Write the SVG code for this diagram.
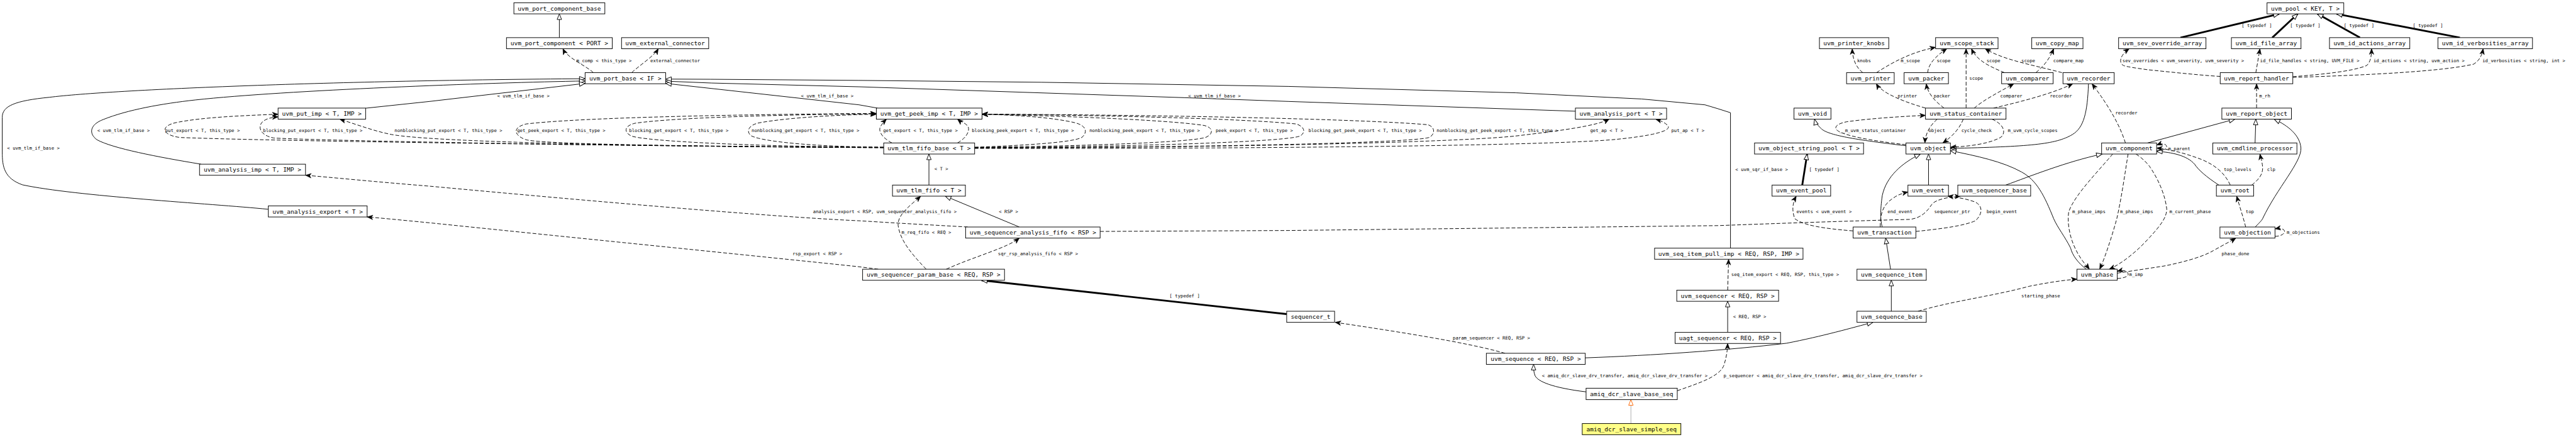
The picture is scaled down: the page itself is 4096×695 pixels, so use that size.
<svg xmlns="http://www.w3.org/2000/svg" width="4096" height="695" viewBox="0 0 4096 695">
<style>
.n rect{fill:#fff;stroke:#000;stroke-width:1.6}
.n text{font-family:"DejaVu Sans Mono","Liberation Mono",monospace;font-size:16px;text-anchor:middle;fill:#000}
#edges path{fill:none;stroke:#000;stroke-width:1.6}
#edges path.d{stroke-dasharray:10,5;marker-end:url(#vee)}
#edges path.i{marker-end:url(#tri)}
#edges path.t{stroke-width:4.8;marker-end:url(#tri)}
#labels text{font-family:"DejaVu Sans Mono","Liberation Mono",monospace;font-size:12.25px;fill:#000}
</style>
<defs>
<marker id="tri" markerUnits="userSpaceOnUse" markerWidth="20" markerHeight="16" refX="15" refY="6" orient="auto" overflow="visible"><path d="M0,0 L15,6 L0,12 Z" fill="#fff" stroke="#000" stroke-width="1.6"/></marker>
<marker id="triO" markerUnits="userSpaceOnUse" markerWidth="20" markerHeight="16" refX="15" refY="6" orient="auto" overflow="visible"><path d="M0,0 L15,6 L0,12 Z" fill="#fff" stroke="#f60" stroke-width="1.6"/></marker>
<marker id="vee" markerUnits="userSpaceOnUse" markerWidth="20" markerHeight="16" refX="15" refY="6" orient="auto" overflow="visible"><path d="M0,0 L15,6 L0,12 L4,6 Z" fill="#000" stroke="#000" stroke-width="1"/></marker>
</defs>
<rect x="0" y="0" width="4096" height="695" fill="#fff"/>
<g transform="scale(0.59752)">
<g id="edges">
<path class="i" d="M1488.5,100.2 L1488.5,36.9"/>
<path class="i" d="M714,557 C560,542 200,522 60,492 C12,475 6,445 6,405 L6,312 C6,282 40,268 131,259 C300,238 900,214 1557,209.5"/>
<path class="i" d="M535,437 C420,418 300,395 258,372 C236,356 238,332 275,318 C340,292 430,276 520,266 C760,240 1300,220 1557,215.5"/>
<path class="i" d="M973,288 L1143,270 L1557,222"/>
<path class="i" d="M2335,287.7 L2286,279 L1771.4,222"/>
<path class="i" d="M4192.3,296 L3429,270 L3153,260 L2286,231 L1894,221 L1771.4,216"/>
<path class="i" d="M4605,660.5 L4605,300 L4572,289.5 L4537,279 L4369,263.5 L4034,247 L3429,230 L2771,219 L2286,214 L1890,211 L1771.4,210.5"/>
<path class="i" d="M2472,492.6 L2472,410"/>
<path class="i" d="M2712.5,604.2 L2515.6,522.1"/>
<path class="i" d="M5072,388 C4920,370 4862,358 4846,342 C4836,332 4831,326 4828.6,317.2"/>
<path class="i" d="M5132,492.6 L5132,410"/>
<path class="i" d="M5009,604.2 C5004,590 5003,560 5009,520 C5020,470 5060,435 5110,410"/>
<path class="i" d="M5031,716.5 L5018,633.7"/>
<path class="i" d="M5033,828.4 L5033,746"/>
<path class="i" d="M4218.5,952.5 C4400,946 4600,932 4754,913.6 C4850,895 4930,872 4984,857.9"/>
<path class="i" d="M4220.7,1043 C4130,1032 4092,1015 4085,1000 C4081,990 4081,982 4081,969.8"/>
<path d="M4340,1127.3 L4340,1063.7" style="stroke:#aaa;marker-end:url(#triO)"/>
<path class="i" d="M4597.5,884.7 L4597.5,801.9"/>
<path class="i" d="M5337.5,492.6 C5400,470 5500,430 5594,410"/>
<path class="i" d="M5715,380.5 L5947,317.2"/>
<path class="i" d="M6001,380.5 L6003,317.2"/>
<path class="i" d="M5904.5,492.6 C5870,470 5850,452 5840,437 C5820,414 5780,405 5739,403"/>
<path class="i" d="M6001.5,604.2 C6010,595 6018,588 6021,582 C6060,500 6126,430 6123,393.5 C6120,360 6090,335 6052,317.2"/>
<path class="i" d="M5552,716.5 C5530,700 5515,680 5510,660 C5495,630 5475,605 5465,582 C5440,520 5420,480 5380,458 C5330,430 5260,415 5190.2,401"/>
<path class="i" d="M5557.6,222.9 C5555,300 5545,340 5515,358 C5470,385 5400,390 5190.2,395"/>
<path class="t" d="M4796,492.6 L4809,410"/>
<path class="t" d="M3424,836 L2612,746"/>
<path class="t" d="M5802.5,100.2 L6065,36.9"/>
<path class="t" d="M6046.7,100.2 L6114.5,36.9"/>
<path class="t" d="M6280,100.2 L6167,36.9"/>
<path class="t" d="M6546,100.2 L6218,36.9"/>
<path class="d" d="M1579,193.4 C1560,175 1510,155 1498,129.7"/>
<path class="d" d="M1681,193.4 C1700,175 1740,150 1751.7,129.7"/>
<path class="d" d="M2351.6,393 C1900,390 800,378 480,366 C430,360 425,335 470,326 C540,312 640,308 740,304"/>
<path class="d" d="M2351.6,393 C1800,391 900,376 729,367.5 C690,360 685,335 700,323 C710,315 725,312 740,311"/>
<path class="d" d="M2351.6,393 C1700,390 1150,378 1042,358 C1000,350 960,335 904,317.2"/>
<path class="d" d="M2351.6,392 C1900,390 1450,385 1400,372 C1370,362 1360,340 1400,330 C1550,312 2000,304 2332,302"/>
<path class="d" d="M2351.6,392 C2000,390 1720,376 1680,362 C1660,352 1660,335 1690,328 C1800,312 2100,305 2332,303"/>
<path class="d" d="M2351.6,392 C2150,390 2030,376 2000,362 C1985,352 1990,333 2020,327 C2100,312 2250,305 2332,304"/>
<path class="d" d="M2373.5,380.5 C2345,365 2337,348 2343,337 C2347,330 2353,323 2359,317.2"/>
<path class="d" d="M2548,380.5 C2575,365 2582,345 2575,335 C2568,327 2555,323 2548,317.2"/>
<path class="d" d="M2593.6,392 C2750,386 2860,378 2880,365 C2895,350 2890,335 2862,327 C2800,312 2700,306 2613.3,304"/>
<path class="d" d="M2593.6,392 C2900,389 3180,378 3210,365 C3230,355 3228,340 3205,334 C3100,318 2800,308 2613.3,304"/>
<path class="d" d="M2593.6,393 C3000,391 3420,378 3460,362 C3475,352 3472,338 3450,330 C3300,315 2900,306 2613.3,304"/>
<path class="d" d="M2593.6,393 C3200,393 3780,380 3805,365 C3820,355 3818,338 3800,332 C3600,315 3000,305 2613.3,304"/>
<path class="d" d="M2593.6,394 C3200,393 3900,380 4050,360 C4150,348 4250,335 4282,317.2"/>
<path class="d" d="M2593.6,395 C3200,396 4100,390 4300,371 C4420,359 4448,345 4438,334 C4428,324 4415,320 4406,317.2"/>
<path class="d" d="M2575,604.2 L2391.7,594 L2286,587.6 C2000,575 1300,510 1143,495.5 C1000,484 880,472 813,466.5"/>
<path class="d" d="M2464.6,716.5 C2420,670 2395,637 2390,600 C2388,570 2425,545 2450,522.1"/>
<path class="d" d="M2518,716.5 C2600,680 2680,660 2712.5,633.7"/>
<path class="d" d="M2337,716.5 L2286,710 C2000,680 1600,640 1143,593 C1060,585 1010,580 977,577.5"/>
<path class="d" d="M4005,940.3 C3900,910 3700,880 3553,857.9"/>
<path class="d" d="M4463.4,1040 C4520,1020 4572,1004 4586.6,974.7 C4595,950 4597,930 4597.5,914.2"/>
<path class="d" d="M4597.5,772.4 L4600,690"/>
<path class="d" d="M2927.5,616 L3429,613.5 L4572,600.5 C4800,592 5000,586 5082,584 C5115,580 5130,560 5140,545 C5150,530 5190,524 5217,522.1"/>
<path class="d" d="M5098.3,616 C5177,608 5228,600 5257,587.6 C5275,570 5278,550 5257,538 C5230,528 5200,524 5183,522.1"/>
<path class="d" d="M5003.6,604.2 C5003,570 5010,545 5038.6,527 C5050,518 5065,514 5077.2,511"/>
<path class="d" d="M4931.4,614.6 C4850,608 4800,600 4776,582 C4768,560 4770,540 4780,522.1"/>
<path class="d" d="M5072,385 C4980,375 4900,360 4887,345 C4880,335 4895,328 4914.6,324 C4980,315 5060,310 5123.9,307"/>
<path class="d" d="M5155,317.2 C5135,335 5124,355 5122.4,380.5"/>
<path class="d" d="M5224.5,317.2 C5215,340 5200,360 5170,380.5"/>
<path class="d" d="M5301,317.2 C5330,330 5340,350 5325,365 C5290,385 5230,390 5190.2,392"/>
<path class="d" d="M5124,287.7 C5070,272 5030,255 5010,240 C5000,232 4996,228 4993,222.9"/>
<path class="d" d="M5173.4,287.7 C5150,270 5130,250 5126,222.9"/>
<path class="d" d="M5232,287.7 L5232,129.7"/>
<path class="d" d="M5253.6,287.7 C5280,265 5320,245 5359,222.9"/>
<path class="d" d="M5305,287.7 C5380,270 5460,250 5516,222.9"/>
<path class="d" d="M4957,193.4 C4940,180 4930,160 4929,129.7"/>
<path class="d" d="M4993.4,193.4 C5030,170 5080,140 5150.8,126"/>
<path class="d" d="M5129.7,193.4 C5132,170 5150,150 5180.7,129.7"/>
<path class="d" d="M5334,193.4 C5290,175 5260,160 5246.3,129.7"/>
<path class="d" d="M5487,193.4 C5420,175 5330,160 5282.8,129.7"/>
<path class="d" d="M5417.6,193.4 C5440,175 5455,155 5465,129.7"/>
<path class="d" d="M5656,380.5 C5640,330 5610,280 5567,222.9"/>
<path class="d" d="M6005,287.7 L6005,222.9"/>
<path class="d" d="M6003,193.4 L6014,129.7"/>
<path class="d" d="M6101.4,204 C6180,198 6260,190 6298,174.5 C6308,165 6311,150 6311,129.7"/>
<path class="d" d="M6101.4,206 C6300,200 6500,190 6582.5,170.8 C6600,160 6605,145 6608,129.7"/>
<path class="d" d="M5908.2,203.4 C5850,200 5760,190 5715,185.6 C5690,182 5660,178 5651,174.5 C5638,168 5640,148 5666,129.7"/>
<path class="d" d="M5739,400 C5765,403 5772,388 5760,384 C5753,382 5747,383 5739,386"/>
<path class="d" d="M5935,492.6 C5920,460 5895,440 5860,425 C5820,410 5780,398 5739,394"/>
<path class="d" d="M5992,492.6 C6015,475 6022,460 6021,445 C6020,430 6016,420 6014,410"/>
<path class="d" d="M5976,604.2 C5970,580 5960,550 5952,522.1"/>
<path class="d" d="M5622,410 C5580,460 5520,520 5505,564 C5500,600 5510,650 5541,693 C5548,703 5555,710 5560,716.5"/>
<path class="d" d="M5663,410 C5655,460 5645,530 5633,582 C5620,630 5600,690 5587.5,716.5"/>
<path class="d" d="M5684,410 C5700,420 5715,435 5722,445.5 C5745,480 5762,520 5766,557 C5765,580 5750,600 5715,637.6 C5690,665 5650,700 5613,716.5"/>
<path class="d" d="M5634.2,741 C5652,741 5666,735 5663,728 C5660,720 5650,718 5634.2,722"/>
<path class="d" d="M5634.2,727 C5680,720 5720,714 5759,708 C5800,700 5860,685 5890,667 C5920,650 5940,640 5949.7,633.7"/>
<path class="d" d="M6054,629 C6072,629 6082,620 6079,614 C6075,607 6065,607 6054,609"/>
<path class="d" d="M5104,828.4 C5200,800 5300,789 5400,762 C5460,750 5500,745 5527,743"/>
</g>
<g id="labels">
<text x="19" y="399">&lt; uvm_tlm_if_base &gt;</text>
<text x="259" y="352">&lt; uvm_tlm_if_base &gt;</text>
<text x="1323" y="259">&lt; uvm_tlm_if_base &gt;</text>
<text x="2131.5" y="259">&lt; uvm_tlm_if_base &gt;</text>
<text x="3162" y="259">&lt; uvm_tlm_if_base &gt;</text>
<text x="4618" y="455">&lt; uvm_sqr_if_base &gt;</text>
<text x="1534" y="165.5">m_comp &lt; this_type &gt;</text>
<text x="1730.6" y="165.5">external_connector</text>
<text x="439.6" y="352">put_export &lt; T, this_type &gt;</text>
<text x="700" y="352">blocking_put_export &lt; T, this_type &gt;</text>
<text x="1049.8" y="352">nonblocking_put_export &lt; T, this_type &gt;</text>
<text x="1376" y="352">get_peek_export &lt; T, this_type &gt;</text>
<text x="1674" y="352">blocking_get_export &lt; T, this_type &gt;</text>
<text x="2000" y="352">nonblocking_get_export &lt; T, this_type &gt;</text>
<text x="2350" y="352">get_export &lt; T, this_type &gt;</text>
<text x="2586" y="352">blocking_peek_export &lt; T, this_type &gt;</text>
<text x="2899" y="352">nonblocking_peek_export &lt; T, this_type &gt;</text>
<text x="3235" y="352">peek_export &lt; T, this_type &gt;</text>
<text x="3482" y="352">blocking_get_peek_export &lt; T, this_type &gt;</text>
<text x="3823" y="352">nonblocking_get_peek_export &lt; T, this_type &gt;</text>
<text x="4231.6" y="352">get_ap &lt; T &gt;</text>
<text x="4447.4" y="352">put_ap &lt; T &gt;</text>
<text x="2486.5" y="454">&lt; T &gt;</text>
<text x="2658" y="567.5">&lt; RSP &gt;</text>
<text x="2163.6" y="567.5">analysis_export &lt; RSP, uvm_sequencer_analysis_fifo &gt;</text>
<text x="2399" y="623">m_req_fifo &lt; REQ &gt;</text>
<text x="2655.6" y="679.4">sqr_rsp_analysis_fifo &lt; RSP &gt;</text>
<text x="2109" y="679">rsp_export &lt; RSP &gt;</text>
<text x="3112" y="791">[ typedef ]</text>
<text x="3866" y="903">param_sequencer &lt; REQ, RSP &gt;</text>
<text x="4103" y="1004.6">&lt; amiq_dcr_slave_drv_transfer, amiq_dcr_slave_drv_transfer &gt;</text>
<text x="4586.6" y="1004.6">p_sequencer &lt; amiq_dcr_slave_drv_transfer, amiq_dcr_slave_drv_transfer &gt;</text>
<text x="4612" y="846.5">&lt; REQ, RSP &gt;</text>
<text x="4607" y="735.3">seq_item_export &lt; REQ, RSP, this_type &gt;</text>
<text x="5379" y="791">starting_phase</text>
<text x="5666" y="735.3">m_imp</text>
<text x="5912" y="679.4">phase_done</text>
<text x="6085" y="623">m_objections</text>
<text x="5976" y="567.5">top</text>
<text x="5773" y="567.5">m_current_phase</text>
<text x="5514.6" y="567.5">m_phase_imps</text>
<text x="5641.5" y="567.5">m_phase_imps</text>
<text x="5917.6" y="455">top_levels</text>
<text x="6033" y="455">clp</text>
<text x="5769.7" y="399.3">m_parent</text>
<text x="5629" y="305.4">recorder</text>
<text x="6012" y="259.4">m_rh</text>
<text x="5648" y="165.5">sev_overrides &lt; uvm_severity, uvm_severity &gt;</text>
<text x="6014" y="165.5">id_file_handles &lt; string, UVM_FILE &gt;</text>
<text x="6316" y="165.5">id_actions &lt; string, uvm_action &gt;</text>
<text x="6606" y="165.5">id_verbosities &lt; string, int &gt;</text>
<text x="5965" y="72">[ typedef ]</text>
<text x="6094" y="72">[ typedef ]</text>
<text x="6237" y="72">[ typedef ]</text>
<text x="6420.6" y="72">[ typedef ]</text>
<text x="4942" y="165.5">knobs</text>
<text x="5058" y="165.5">m_scope</text>
<text x="5153.7" y="165.5">scope</text>
<text x="5286.4" y="165.5">scope</text>
<text x="5379" y="165.5">scope</text>
<text x="5464" y="165.5">compare_map</text>
<text x="5240.5" y="212.6">scope</text>
<text x="5050" y="259.4">printer</text>
<text x="5145.7" y="259.4">packer</text>
<text x="5323" y="259.4">comparer</text>
<text x="5455" y="259.4">recorder</text>
<text x="4895" y="352">__m_uvm_status_container</text>
<text x="5132" y="352">object</text>
<text x="5219.4" y="352">cycle_check</text>
<text x="5343" y="352">m_uvm_cycle_scopes</text>
<text x="4814" y="455">[ typedef ]</text>
<text x="4780.5" y="567.5">events &lt; uvm_event &gt;</text>
<text x="5023" y="567.5">end_event</text>
<text x="5147" y="567.5">sequencer_ptr</text>
<text x="5286.4" y="567.5">begin_event</text>
</g>
<g id="n_pcb" class="n"><rect x="1367.5" y="7.4" width="242.1" height="29.5"/><text x="1488.55" y="27.65">uvm_port_component_base</text></g>
<g id="n_pc" class="n"><rect x="1347.8" y="100.2" width="281.5" height="29.5"/><text x="1488.55" y="120.45">uvm_port_component &lt; PORT &gt;</text></g>
<g id="n_ext" class="n"><rect x="1654" y="100.2" width="231.9" height="29.5"/><text x="1769.95" y="120.45">uvm_external_connector</text></g>
<g id="n_pb" class="n"><rect x="1557" y="193.4" width="214.4" height="29.5"/><text x="1664.2" y="213.65">uvm_port_base &lt; IF &gt;</text></g>
<g id="n_put" class="n"><rect x="740" y="287.7" width="233" height="29.5"/><text x="856.5" y="307.95">uvm_put_imp &lt; T, IMP &gt;</text></g>
<g id="n_gpi" class="n"><rect x="2332" y="287.7" width="281.3" height="29.5"/><text x="2472.65" y="307.95">uvm_get_peek_imp &lt; T, IMP &gt;</text></g>
<g id="n_ap" class="n"><rect x="4192.3" y="287.7" width="242.7" height="29.5"/><text x="4313.65" y="307.95">uvm_analysis_port &lt; T &gt;</text></g>
<g id="n_aimp" class="n"><rect x="531" y="437" width="282" height="29.5"/><text x="672" y="457.25">uvm_analysis_imp &lt; T, IMP &gt;</text></g>
<g id="n_fb" class="n"><rect x="2351.6" y="380.5" width="242" height="29.5"/><text x="2472.6" y="400.75">uvm_tlm_fifo_base &lt; T &gt;</text></g>
<g id="n_ff" class="n"><rect x="2375" y="492.6" width="194" height="29.5"/><text x="2472" y="512.85">uvm_tlm_fifo &lt; T &gt;</text></g>
<g id="n_aexp" class="n"><rect x="714" y="548" width="263" height="29.5"/><text x="845.5" y="568.25">uvm_analysis_export &lt; T &gt;</text></g>
<g id="n_saf" class="n"><rect x="2569.6" y="604.2" width="357.9" height="29.5"/><text x="2748.55" y="624.45">uvm_sequencer_analysis_fifo &lt; RSP &gt;</text></g>
<g id="n_spb" class="n"><rect x="2295.5" y="716.5" width="377.6" height="29.5"/><text x="2484.3" y="736.75">uvm_sequencer_param_base &lt; REQ, RSP &gt;</text></g>
<g id="n_sqt" class="n"><rect x="3424" y="828.4" width="127.5" height="29.5"/><text x="3487.75" y="848.65">sequencer_t</text></g>
<g id="n_seq" class="n"><rect x="3955.3" y="940.3" width="263.2" height="29.5"/><text x="4086.9" y="960.55">uvm_sequence &lt; REQ, RSP &gt;</text></g>
<g id="n_bseq" class="n"><rect x="4220.7" y="1033.3" width="242.7" height="30.4"/><text x="4342.05" y="1054">amiq_dcr_slave_base_seq</text></g>
<g id="n_sseq" class="n"><rect x="4210.5" y="1127.3" width="262.5" height="29.7" style="fill:#ffff88"/><text x="4341.75" y="1147.65">amiq_dcr_slave_simple_seq</text></g>
<g id="n_sipi" class="n"><rect x="4403" y="660.5" width="395" height="29.5"/><text x="4600.5" y="680.75">uvm_seq_item_pull_imp &lt; REQ, RSP, IMP &gt;</text></g>
<g id="n_sqr" class="n"><rect x="4462" y="772.4" width="271.1" height="29.5"/><text x="4597.55" y="792.65">uvm_sequencer &lt; REQ, RSP &gt;</text></g>
<g id="n_uagt" class="n"><rect x="4457.6" y="884.7" width="280.6" height="29.5"/><text x="4597.9" y="904.95">uagt_sequencer &lt; REQ, RSP &gt;</text></g>
<g id="n_pk" class="n"><rect x="4841.7" y="100.2" width="184.5" height="29.5"/><text x="4933.95" y="120.45">uvm_printer_knobs</text></g>
<g id="n_ss" class="n"><rect x="5150.8" y="100.2" width="166.2" height="29.5"/><text x="5233.9" y="120.45">uvm_scope_stack</text></g>
<g id="n_cm" class="n"><rect x="5406.7" y="100.2" width="136.3" height="29.5"/><text x="5474.85" y="120.45">uvm_copy_map</text></g>
<g id="n_sev" class="n"><rect x="5637.8" y="100.2" width="232.5" height="29.5"/><text x="5754.05" y="120.45">uvm_sev_override_array</text></g>
<g id="n_idf" class="n"><rect x="5938" y="100.2" width="185.2" height="29.5"/><text x="6030.6" y="120.45">uvm_id_file_array</text></g>
<g id="n_ida" class="n"><rect x="6199" y="100.2" width="213.7" height="29.5"/><text x="6305.85" y="120.45">uvm_id_actions_array</text></g>
<g id="n_idv" class="n"><rect x="6487.7" y="100.2" width="251.5" height="29.5"/><text x="6613.45" y="120.45">uvm_id_verbosities_array</text></g>
<g id="n_pool" class="n"><rect x="6032.8" y="7.4" width="204.2" height="29.5"/><text x="6134.9" y="27.65">uvm_pool &lt; KEY, T &gt;</text></g>
<g id="n_prn" class="n"><rect x="4913.9" y="193.4" width="126.8" height="29.5"/><text x="4977.3" y="213.65">uvm_printer</text></g>
<g id="n_pck" class="n"><rect x="5067" y="193.4" width="118" height="29.5"/><text x="5126" y="213.65">uvm_packer</text></g>
<g id="n_cmp" class="n"><rect x="5326.5" y="193.4" width="137.1" height="29.5"/><text x="5395.05" y="213.65">uvm_comparer</text></g>
<g id="n_rec" class="n"><rect x="5489.8" y="193.4" width="136.3" height="29.5"/><text x="5557.95" y="213.65">uvm_recorder</text></g>
<g id="n_rh" class="n"><rect x="5908.2" y="193.4" width="193.2" height="29.5"/><text x="6004.8" y="213.65">uvm_report_handler</text></g>
<g id="n_void" class="n"><rect x="4774" y="287.7" width="98.3" height="29.5"/><text x="4823.15" y="307.95">uvm_void</text></g>
<g id="n_sc" class="n"><rect x="5123.9" y="287.7" width="214.3" height="29.5"/><text x="5231.05" y="307.95">uvm_status_container</text></g>
<g id="n_ro" class="n"><rect x="5912.6" y="287.7" width="185.1" height="29.5"/><text x="6005.15" y="307.95">uvm_report_object</text></g>
<g id="n_osp" class="n"><rect x="4669" y="380.5" width="290.1" height="29.5"/><text x="4814.05" y="400.75">uvm_object_string_pool &lt; T &gt;</text></g>
<g id="n_obj" class="n"><rect x="5072" y="380.5" width="118.2" height="29.5"/><text x="5131.1" y="400.75">uvm_object</text></g>
<g id="n_comp" class="n"><rect x="5592.6" y="380.5" width="146.4" height="29.5"/><text x="5665.8" y="400.75">uvm_component</text></g>
<g id="n_clp" class="n"><rect x="5888.5" y="380.5" width="223.8" height="29.5"/><text x="6000.4" y="400.75">uvm_cmdline_processor</text></g>
<g id="n_ep" class="n"><rect x="4715.6" y="492.6" width="156" height="29.5"/><text x="4793.6" y="512.85">uvm_event_pool</text></g>
<g id="n_ev" class="n"><rect x="5077.2" y="492.6" width="107.9" height="29.5"/><text x="5131.15" y="512.85">uvm_event</text></g>
<g id="n_sb" class="n"><rect x="5209.9" y="492.6" width="193.9" height="29.5"/><text x="5306.85" y="512.85">uvm_sequencer_base</text></g>
<g id="n_root" class="n"><rect x="5898" y="492.6" width="99.1" height="29.5"/><text x="5947.55" y="512.85">uvm_root</text></g>
<g id="n_tr" class="n"><rect x="4931.4" y="604.2" width="166.9" height="29.5"/><text x="5014.85" y="624.45">uvm_transaction</text></g>
<g id="n_si" class="n"><rect x="4941.6" y="716.5" width="184.4" height="29.5"/><text x="5033.8" y="736.75">uvm_sequence_item</text></g>
<g id="n_sqb" class="n"><rect x="4941.6" y="828.4" width="184.4" height="29.5"/><text x="5033.8" y="848.65">uvm_sequence_base</text></g>
<g id="n_ph" class="n"><rect x="5527" y="716.5" width="107.2" height="29.5"/><text x="5580.6" y="736.75">uvm_phase</text></g>
<g id="n_objn" class="n"><rect x="5907.5" y="604.2" width="146.5" height="29.5"/><text x="5980.75" y="624.45">uvm_objection</text></g>
</g>
</svg>
